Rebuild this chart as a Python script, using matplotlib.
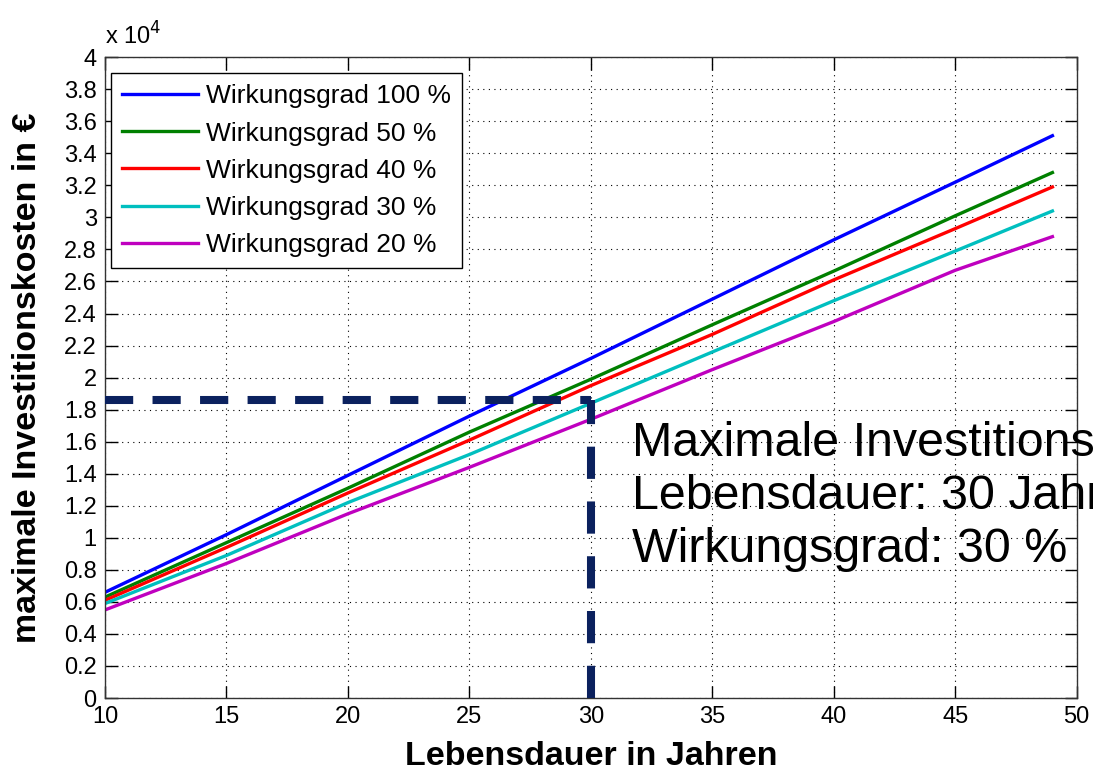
import matplotlib
matplotlib.use("Agg")
import matplotlib.pyplot as plt
from matplotlib.ticker import FuncFormatter, MultipleLocator

plt.rcParams['font.family'] = ['Liberation Sans', 'DejaVu Sans']

# Lebensdauer in Jahren
jahre = [10, 15, 20, 25, 30, 35, 40, 45, 49]

# maximale Investitionskosten in Euro je Wirkungsgrad
kosten_100 = [6600, 10200, 13900, 17600, 21200, 24900, 28600, 32200, 35100]
kosten_50 = [6300, 9700, 13100, 16600, 19900, 23300, 26650, 30100, 32800]
kosten_40 = [6100, 9400, 12800, 16100, 19500, 22700, 26100, 29300, 31900]
kosten_30 = [5900, 8900, 12200, 15200, 18400, 21600, 24800, 27900, 30400]
kosten_20 = [5500, 8400, 11500, 14400, 17400, 20500, 23500, 26700, 28800]

labels = ['Wirkungsgrad 100 %', 'Wirkungsgrad 50 %', 'Wirkungsgrad 40 %',
          'Wirkungsgrad 30 %', 'Wirkungsgrad 20 %']
farben = ['#0000ff', '#008000', '#ff0000', '#00bfbf', '#bf00bf']

# Ablesepunkt
ziel_jahre = 30
ziel_kosten = 18600

fig = plt.figure(figsize=(10.93, 7.73), dpi=100)
ax = fig.add_axes([0.0961, 0.097, 0.889, 0.829])

for werte, lab, col in zip([kosten_100, kosten_50, kosten_40, kosten_30, kosten_20],
                           labels, farben):
    ax.plot(jahre, werte, color=col, lw=2.4, label=lab)

dash_col = '#0b215e'
ax.plot([10, ziel_jahre], [ziel_kosten, ziel_kosten], color=dash_col, lw=5.8,
        dashes=(3.5, 2.4), dash_capstyle='butt', zorder=5)
ax.plot([ziel_jahre, ziel_jahre], [0, ziel_kosten], color=dash_col, lw=5.8,
        dashes=(4.0, 2.8), dash_capstyle='butt', zorder=5)

ax.set_xlim(10, 50)
ax.set_ylim(0, 40000)
ax.xaxis.set_major_locator(MultipleLocator(5))
ax.yaxis.set_major_locator(MultipleLocator(2000))
ax.yaxis.set_major_formatter(FuncFormatter(lambda v, p: '%g' % round(v / 1e4, 1)))

ax.grid(True, color='black', linestyle=(0, (1, 4)), linewidth=0.8)
ax.tick_params(direction='in', length=9, width=1, top=True, right=True,
               labelsize=17, pad=6)
for s in ax.spines.values():
    s.set_linewidth(1.0)
    s.set_color('#333333')

ax.text(0.0, 1.012, r'x 10$^{4}$', transform=ax.transAxes, fontsize=17,
        ha='left', va='bottom')

ax.set_xlabel('Lebensdauer in Jahren', fontsize=24.5, fontweight='bold', labelpad=9)
ax.set_ylabel('maximale Investitionskosten in €', fontsize=24.5, fontweight='bold',
              labelpad=15)

leg = ax.legend(loc='upper left', bbox_to_anchor=(0.006, 0.975), fontsize=19,
                frameon=True, fancybox=False, handlelength=2.9, handletextpad=0.3,
                labelspacing=0.5, borderpad=0.42, borderaxespad=0)
leg.get_frame().set_edgecolor('black')
leg.get_frame().set_linewidth(1.0)
leg.get_frame().set_alpha(1)

ax.text(31.7, 17300, 'Maximale Investitionskosten: 18.600 €\n'
        'Lebensdauer: 30 Jahre\nWirkungsgrad: 30 %',
        fontsize=34.8, ha='left', va='top', linespacing=1.23, clip_on=False, zorder=6)

fig.savefig('out.png', dpi=100)
